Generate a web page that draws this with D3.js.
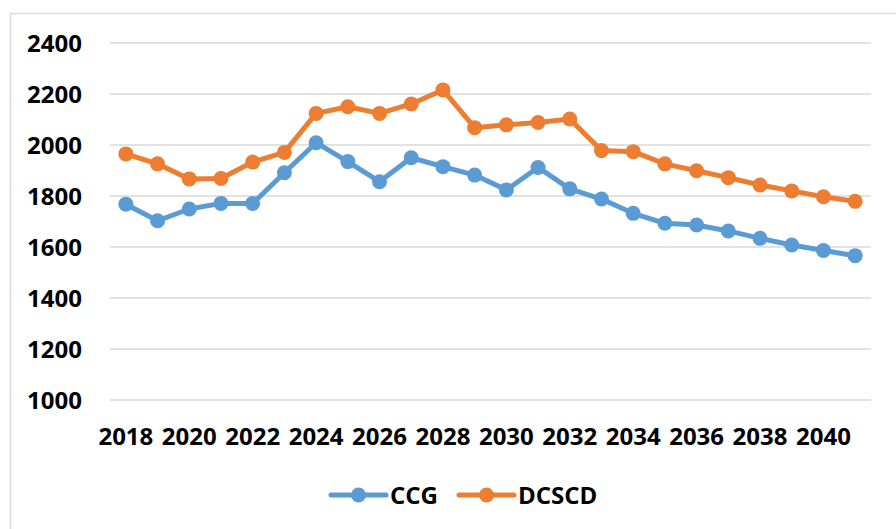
<!DOCTYPE html>
<html>
<head>
<meta charset="utf-8">
<script src="https://cdn.jsdelivr.net/npm/d3@7"></script>
<style>
  body { margin: 0; background: #fff; }
  svg { display: block; }
  text { font-family: "Open Sans", "Liberation Sans", sans-serif; font-weight: bold; fill: #000; }
</style>
</head>
<body>
<svg id="chart" width="896" height="529"></svg>
<script>
// data
var years = [2018, 2019, 2020, 2021, 2022, 2023, 2024, 2025, 2026, 2027, 2028, 2029,
             2030, 2031, 2032, 2033, 2034, 2035, 2036, 2037, 2038, 2039, 2040, 2041];
var ccg = [1768, 1703, 1749, 1771, 1771, 1891, 2009, 1935, 1856, 1950, 1915, 1882,
           1824, 1912, 1828, 1788, 1732, 1693, 1686, 1663, 1634, 1608, 1586, 1566];
var dcscd = [1965, 1926, 1867, 1869, 1933, 1971, 2124, 2150, 2124, 2161, 2216, 2068,
             2079, 2088, 2102, 1978, 1974, 1926, 1899, 1872, 1843, 1820, 1797, 1779];
var yTicks = [1000, 1200, 1400, 1600, 1800, 2000, 2200, 2400];
var seriesNames = ["CCG", "DCSCD"];
var seriesColors = ["#5B9BD5", "#ED7D31"];

var svg = d3.select("#chart");

// chart area border (runs off the right/bottom edge like the original)
svg.append("rect")
    .attr("x", 10.5).attr("y", 13.5)
    .attr("width", 900).attr("height", 530)
    .attr("fill", "none")
    .attr("stroke", "#d9d9d9")
    .attr("stroke-width", 1.5);

var x = d3.scaleBand().domain(years).range([110, 871]);
var y = d3.scaleLinear().domain([1000, 2400]).range([400, 43]);
var cx = d => x(d) + x.bandwidth() / 2;

// gridlines
svg.append("g").selectAll("line")
    .data(yTicks)
    .enter()
    .append("line")
    .attr("x1", 110).attr("x2", 871)
    .attr("y1", d => y(d)).attr("y2", d => y(d))
    .attr("stroke", "#d9d9d9")
    .attr("stroke-width", 1.5);

// y labels
svg.append("g").selectAll("text")
    .data(yTicks)
    .enter()
    .append("text")
    .attr("x", 82)
    .attr("y", d => y(d))
    .attr("dy", "0.36em")
    .attr("text-anchor", "end")
    .style("font-size", "24px")
    .text(d => d);

// x labels, every other year
svg.append("g").selectAll("text")
    .data(years.filter((d, i) => i % 2 == 0))
    .enter()
    .append("text")
    .attr("x", d => cx(d))
    .attr("y", 445)
    .attr("text-anchor", "middle")
    .style("font-size", "24px")
    .text(d => d);

var line = d3.line()
    .x((d, i) => cx(years[i]))
    .y(d => y(d));

[ccg, dcscd].forEach(function (vals, k) {
    var g = svg.append("g");
    g.append("path")
        .attr("d", line(vals))
        .attr("fill", "none")
        .attr("stroke", seriesColors[k])
        .attr("stroke-width", 5)
        .attr("stroke-linejoin", "round");
    g.selectAll("circle")
        .data(vals)
        .enter()
        .append("circle")
        .attr("cx", (d, i) => cx(years[i]))
        .attr("cy", d => y(d))
        .attr("r", 7.5)
        .attr("fill", seriesColors[k]);
});

// legend
var legendX = [331, 459];
seriesNames.forEach(function (name, k) {
    var lg = svg.append("g").attr("transform", "translate(" + legendX[k] + ",495)");
    lg.append("line")
        .attr("x1", 0).attr("x2", 55)
        .attr("stroke", seriesColors[k])
        .attr("stroke-width", 5)
        .attr("stroke-linecap", "round");
    lg.append("circle")
        .attr("cx", 27.5).attr("r", 7.5)
        .attr("fill", seriesColors[k]);
    lg.append("text")
        .attr("x", 59)
        .attr("dy", "0.36em")
        .style("font-size", "24px")
        .text(name);
});
</script>
</body>
</html>
